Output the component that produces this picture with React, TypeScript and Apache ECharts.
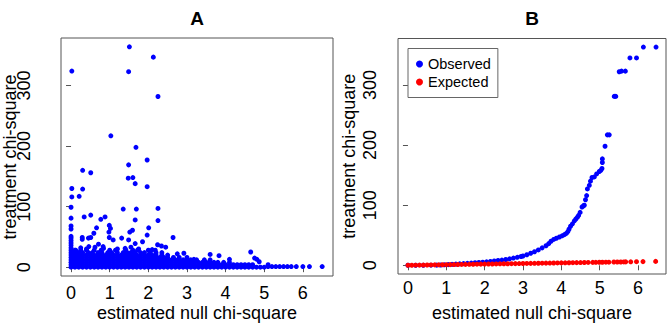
import React, { useEffect, useRef } from 'react';
import * as echarts from 'echarts';

const FONT = 'Liberation Sans, Arial, Helvetica, sans-serif';

const xTickValues = [0, 1, 2, 3, 4, 5, 6];
const yTickValues = [0, 100, 200, 300];
const panelTitles = ['A', 'B'];
const xTitle = 'estimated null chi-square';
const yTitle = 'treatment chi-square';
const legendNames = ['Observed', 'Expected'];

// Panel A: dense cloud, read as rows of x positions at given y levels
const cloudY0 = [0, 0.1, 0.2, 0.3, 0.4, 0.5, 0.6, 0.7, 0.8, 0.9, 1.0, 1.1, 1.2, 1.3, 1.4, 1.5, 1.6, 1.7, 1.8, 1.9, 2.0, 2.1, 2.2, 2.3, 2.4, 2.5, 2.6, 2.7, 2.8, 2.9, 3.0, 3.1, 3.2, 3.3, 3.4, 3.5, 3.6, 3.7, 3.8, 3.9, 4.0, 4.1, 4.2, 4.3, 4.4, 4.5, 4.6, 4.7, 4.8, 4.9, 5.0];
const cloudY4 = [0, 0.1, 0.2, 0.3, 0.4, 0.5, 0.6, 0.7, 0.8, 0.9, 1.0, 1.1, 1.2, 1.3, 1.4, 1.5, 1.6, 1.7, 1.8, 1.9, 2.0, 2.1, 2.2, 2.3, 2.4, 2.5, 2.6, 2.7, 2.8, 2.9, 3.0, 3.1, 3.2, 3.3, 3.4, 3.5, 3.6, 3.7, 3.8, 3.9, 4.0, 4.1, 4.2, 4.3, 4.4, 4.5, 4.6, 4.7];
const cloudY8 = [0, 0.1, 0.2, 0.3, 0.4, 0.5, 0.6, 0.7, 0.8, 0.9, 1.0, 1.1, 1.2, 1.3, 1.4, 1.5, 1.6, 1.7, 1.8, 1.9, 2.0, 2.1, 2.2, 2.3, 2.4, 2.5, 2.6, 2.7, 2.8, 2.9, 3.0, 3.1, 3.2, 3.3, 3.4, 3.5, 3.6, 3.7, 3.8, 3.95, 4.1];
const cloudY12 = [0, 0.1, 0.2, 0.3, 0.4, 0.5, 0.6, 0.7, 0.8, 0.9, 1.0, 1.1, 1.2, 1.3, 1.4, 1.5, 1.6, 1.7, 1.8, 1.9, 2.0, 2.1, 2.2, 2.3, 2.4, 2.5, 2.6, 2.7, 2.8, 2.9, 3.0, 3.1, 3.25, 3.45, 3.6];
const cloudY16 = [0, 0.1, 0.2, 0.3, 0.4, 0.5, 0.6, 0.7, 0.8, 0.9, 1.0, 1.1, 1.2, 1.3, 1.4, 1.5, 1.6, 1.7, 1.8, 1.9, 2.0, 2.1, 2.2, 2.3, 2.4, 2.5, 2.65, 2.8, 3.0];
const cloudY20 = [0, 0.1, 0.2, 0.3, 0.4, 0.5, 0.6, 0.7, 0.8, 0.9, 1.0, 1.1, 1.2, 1.3, 1.4, 1.5, 1.6, 1.7, 1.8, 1.9, 2.0, 2.1, 2.2, 2.35, 2.5];
const cloudY24 = [0, 0.1, 0.2, 0.3, 0.45, 0.55, 0.7, 0.8, 0.95, 1.05, 1.2, 1.35, 1.45, 1.55, 1.65, 1.8, 1.9, 2.05, 2.2, 2.35];
const cloudY28 = [0, 0.12, 0.25, 0.4, 0.6, 0.78, 1.0, 1.15, 1.42, 1.6, 1.72, 2.0, 2.18];
const zeroColumnY = [32, 36, 40, 44, 48, 51];
const tailX = [5.1, 5.2, 5.3, 5.4, 5.5, 5.6, 5.7, 5.83, 6.0, 6.17, 6.5];

const aOutliers = [
  [1.51, 364], [2.13, 347], [0.02, 324], [1.49, 323], [2.25, 282], [1.03, 217], [1.68, 198],
  [1.97, 177], [1.49, 169], [0.30, 160], [0.51, 156], [1.48, 147], [1.60, 148], [1.66, 138], [1.97, 133],
  [0.02, 130], [0.30, 129], [0.21, 117], [0.02, 116], [0.0, 99], [1.35, 96], [1.69, 96], [2.25, 97],
  [0.0, 81], [0.34, 83], [0.51, 86], [0.77, 79], [0.88, 83], [1.66, 78], [2.25, 77],
  [0.0, 68], [0.0, 63], [0.66, 65], [0.99, 69], [1.02, 64], [0.98, 58], [1.59, 61], [1.52, 58], [2.01, 65],
  [1.97, 53], [2.64, 49], [0.59, 56], [0.29, 49], [0.29, 46], [0.45, 48], [0.51, 49], [0.99, 49], [1.09, 45],
  [1.31, 48], [1.49, 45], [1.66, 39], [1.85, 42], [2.24, 37], [2.34, 35], [2.45, 33],
  [0.46, 34], [0.62, 33], [0.71, 38], [0.83, 34], [0.10, 28], [2.75, 22], [2.92, 23], [3.18, 13],
  [0.25, 32], [0.84, 31], [1.2, 30], [1.4, 31], [1.75, 30], [2.1, 29], [1.55, 33], [0.4, 30],
  [3.60, 21], [3.83, 19], [4.10, 13], [4.65, 25], [4.75, 15], [4.81, 13], [4.87, 9], [5.10, 4],
];

// Panel B
const observed = [
  [0, 0], [0.2, 0], [0.4, 0.1], [0.6, 0.2], [0.75, 0.3], [0.85, 0.5], [0.95, 0.8], [1.05, 1.1], [1.15, 1.5],
  [1.25, 1.9], [1.35, 2.4], [1.45, 2.8], [1.55, 3.2], [1.65, 3.7], [1.75, 4.2], [1.85, 4.7], [1.95, 5.2],
  [2.05, 5.7], [2.15, 6.4], [2.25, 7.1], [2.35, 7.9], [2.45, 8.7], [2.55, 9.6], [2.65, 10.7], [2.75, 12],
  [2.85, 13.3], [2.95, 14.6], [3.0, 15.5], [3.1, 17.5], [3.2, 20], [3.3, 22.5], [3.4, 25.5], [3.5, 29],
  [3.6, 32.5], [3.67, 36], [3.73, 40], [3.8, 43], [3.87, 45], [3.95, 47], [4.02, 49], [4.08, 51], [4.13, 53],
  [4.17, 56], [4.2, 60], [4.24, 65], [4.29, 69], [4.34, 74], [4.38, 77], [4.42, 80], [4.45, 83], [4.49, 88],
  [4.54, 97], [4.58, 99], [4.6, 100], [4.63, 109], [4.66, 116], [4.68, 127], [4.73, 133], [4.76, 140],
  [4.8, 146], [4.86, 147], [4.92, 152], [4.99, 156], [5.03, 158], [5.06, 161], [5.07, 171], [5.07, 177],
  [5.14, 198], [5.2, 217], [5.25, 217], [5.38, 281], [5.42, 281], [5.51, 322], [5.57, 323], [5.67, 323],
  [5.79, 345], [5.96, 345], [6.14, 363], [6.47, 363],
];
const expected = [
  [0, 0], [0.1, 0.1], [0.2, 0.2], [0.3, 0.3], [0.4, 0.4], [0.5, 0.5], [0.6, 0.6], [0.7, 0.7], [0.8, 0.8],
  [0.9, 0.9], [1.0, 1.0], [1.1, 1.1], [1.2, 1.2], [1.3, 1.3], [1.4, 1.4], [1.5, 1.5], [1.6, 1.6], [1.7, 1.7],
  [1.8, 1.8], [1.9, 1.9], [2.0, 2.0], [2.1, 2.1], [2.2, 2.2], [2.3, 2.3], [2.4, 2.4], [2.5, 2.5], [2.6, 2.6],
  [2.7, 2.7], [2.8, 2.8], [2.9, 2.9], [3.0, 3.0], [3.1, 3.1], [3.2, 3.2], [3.3, 3.3], [3.4, 3.4], [3.5, 3.5],
  [3.6, 3.6], [3.7, 3.7], [3.8, 3.8], [3.9, 3.9], [4.0, 4.0], [4.1, 4.1], [4.2, 4.2], [4.3, 4.3], [4.4, 4.4],
  [4.5, 4.5], [4.6, 4.6], [4.7, 4.7], [4.82, 4.8], [4.9, 4.9], [4.99, 5.0], [5.07, 5.1], [5.16, 5.2],
  [5.24, 5.2], [5.37, 5.4], [5.46, 5.5], [5.55, 5.5], [5.63, 5.6], [5.68, 5.7], [5.81, 5.8], [5.96, 6.0],
  [6.13, 6.1], [6.46, 6.5],
];

const BLUE = '#0000ff';
const RED = '#ff0000';
const FRAME = '#555555';
const DOT = 5;

function buildCloud() {
  const pts: number[][] = [];
  const rows: [number[], number][] = [
    [cloudY0, 0], [cloudY4, 4], [cloudY8, 8], [cloudY12, 12], [cloudY16, 16],
    [cloudY20, 20], [cloudY24, 24], [cloudY28, 28],
  ];
  rows.forEach(([xs, y]) => xs.forEach((x) => pts.push([x, y])));
  zeroColumnY.forEach((y) => pts.push([0, y]));
  tailX.forEach((x) => pts.push([x, 1]));
  aOutliers.forEach((p) => pts.push(p));
  return pts;
}

function xAxisCfg(gridIndex: number, min: number, max: number, labelMargin: number, nameGap: number) {
  return {
    gridIndex, type: 'value', min, max,
    splitLine: { show: false },
    axisLine: { show: false },
    axisTick: { show: true, customValues: xTickValues, length: 5, lineStyle: { color: FRAME, width: 1 } },
    axisLabel: { customValues: xTickValues, margin: labelMargin, fontSize: 18, color: '#000', fontFamily: FONT },
    name: xTitle, nameLocation: 'middle', nameGap, nameMoveOverlap: false,
    nameTextStyle: { fontSize: 18, color: '#000', fontFamily: FONT },
  };
}

function yAxisCfg(gridIndex: number, min: number, max: number, labelMargin: number, nameGap: number) {
  return {
    gridIndex, type: 'value', min, max,
    splitLine: { show: false },
    axisLine: { show: false },
    axisTick: { show: true, customValues: yTickValues, length: 5, lineStyle: { color: FRAME, width: 1 } },
    axisLabel: { customValues: yTickValues, rotate: 90, margin: labelMargin, fontSize: 18, color: '#000', fontFamily: FONT },
    name: yTitle, nameLocation: 'middle', nameGap, nameMoveOverlap: false,
    nameTextStyle: { fontSize: 18, color: '#000', fontFamily: FONT },
  };
}

export default function App() {
  const ref = useRef<HTMLDivElement>(null);
  useEffect(() => {
    if (!ref.current) return;
    const chart = echarts.init(ref.current, null, { renderer: 'svg' });
    const option: any = {
      animation: false,
      backgroundColor: '#ffffff',
      title: [
        { text: panelTitles[0], left: 197, top: 9, padding: 0, textAlign: 'center',
          textStyle: { fontSize: 19, fontWeight: 'bold', color: '#000', fontFamily: FONT } },
        { text: panelTitles[1], left: 532, top: 9, padding: 0, textAlign: 'center',
          textStyle: { fontSize: 19, fontWeight: 'bold', color: '#000', fontFamily: FONT } },
      ],
      grid: [
        { left: 61, top: 38, width: 272, height: 238, show: true, borderColor: FRAME, borderWidth: 1,
          backgroundColor: 'transparent', containLabel: false, outerBoundsMode: 'none' },
        { left: 398, top: 38.5, width: 268, height: 235.5, show: true, borderColor: FRAME, borderWidth: 1,
          backgroundColor: 'transparent', containLabel: false, outerBoundsMode: 'none' },
      ],
      xAxis: [
        xAxisCfg(0, -0.26, 6.78, 8, 28),
        xAxisCfg(1, -0.26, 6.73, 5, 30),
      ],
      yAxis: [
        yAxisCfg(0, -14.6, 378.6, 28.5, 42),
        yAxisCfg(1, -14.5, 377.3, 19, 40.5),
      ],
      legend: {
        data: legendNames,
        left: 408, top: 48.5,
        orient: 'vertical',
        icon: 'circle',
        itemWidth: 7, itemHeight: 7, itemGap: 3,
        padding: [8, 7, 8, 8],
        borderColor: '#666', borderWidth: 1,
        selectedMode: false,
        textStyle: { fontSize: 14.5, color: '#000', fontFamily: FONT },
      },
      series: [
        {
          name: 'panelA', type: 'scatter', xAxisIndex: 0, yAxisIndex: 0,
          symbolSize: DOT, itemStyle: { color: BLUE, opacity: 1 }, silent: true,
          data: buildCloud(),
        },
        {
          name: legendNames[0], type: 'scatter', xAxisIndex: 1, yAxisIndex: 1,
          symbolSize: DOT, itemStyle: { color: BLUE, opacity: 1 }, silent: true,
          data: observed,
        },
        {
          name: legendNames[1], type: 'scatter', xAxisIndex: 1, yAxisIndex: 1,
          symbolSize: DOT, itemStyle: { color: RED, opacity: 1 }, silent: true,
          data: expected,
        },
      ],
    };
    chart.setOption(option);
    return () => chart.dispose();
  }, []);
  return <div ref={ref} style={{ position: 'fixed', left: 0, top: 0, width: 667, height: 326 }} />;
}
